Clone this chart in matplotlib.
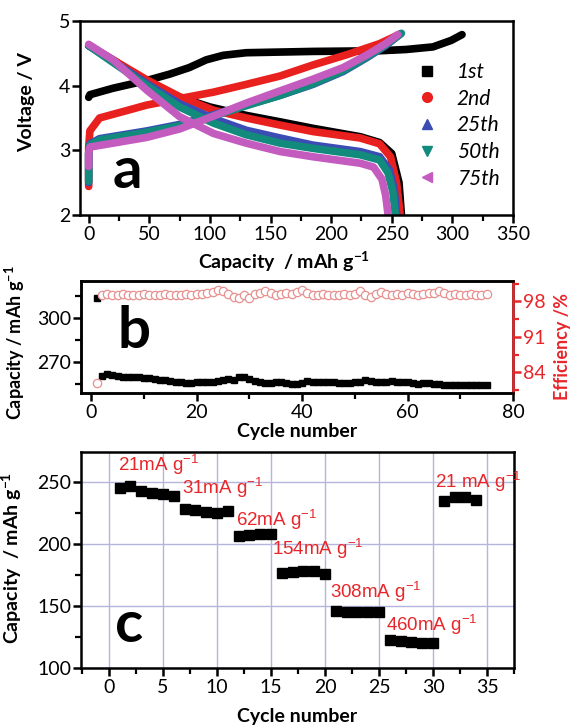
import matplotlib
matplotlib.use("Agg")
import matplotlib.pyplot as plt
import matplotlib.ticker as mticker
from matplotlib.lines import Line2D

# ---------------- panel a: charge / discharge curves ----------------
CYCLE_LABELS = ["1st", "2nd", "25th", "50th", "75th"]
CYCLE_COLORS = ["#000000", "#e8201e", "#3b4db5", "#128a7c", "#c45cc0"]
CYCLE_MARKERS = ["s", "o", "^", "v", "<"]

# charge (capacity mAh/g, voltage V)
chg_cap_1st = [0, 1, 20, 48, 67, 83, 97, 111, 130, 185, 240, 262, 284, 299, 308]
chg_v_1st = [3.82, 3.86, 3.96, 4.08, 4.18, 4.28, 4.40, 4.47, 4.51, 4.53, 4.54, 4.56, 4.60, 4.70, 4.79]
chg_cap_2nd = [0, 0, 1, 9, 48, 75, 103, 130, 158, 185, 213, 240, 257]
chg_v_2nd = [2.44, 3.05, 3.30, 3.50, 3.70, 3.80, 3.90, 4.02, 4.15, 4.32, 4.48, 4.65, 4.80]
chg_cap_25th = [0, 0, 1, 9, 48, 75, 103, 130, 158, 185, 210, 230, 245, 257]
chg_v_25th = [2.50, 2.95, 3.10, 3.18, 3.30, 3.40, 3.55, 3.70, 3.85, 4.02, 4.22, 4.44, 4.62, 4.80]
chg_cap_50th = [0, 0, 1, 9, 48, 75, 103, 130, 158, 185, 210, 230, 245, 258]
chg_v_50th = [2.52, 2.95, 3.08, 3.16, 3.28, 3.38, 3.53, 3.69, 3.85, 4.03, 4.23, 4.45, 4.63, 4.81]
chg_cap_75th = [0, 0, 1, 20, 48, 75, 103, 130, 158, 185, 210, 230, 245, 255]
chg_v_75th = [2.75, 2.95, 3.05, 3.11, 3.20, 3.33, 3.53, 3.73, 3.92, 4.10, 4.28, 4.48, 4.65, 4.79]

# discharge
dis_cap_1st = [0, 20, 48, 75, 100, 130, 158, 185, 224, 240, 250, 256, 258]
dis_v_1st = [4.62, 4.40, 4.05, 3.82, 3.67, 3.54, 3.44, 3.34, 3.21, 3.12, 2.95, 2.50, 2.00]
dis_cap_2nd = [0, 20, 48, 75, 103, 130, 158, 185, 224, 240, 249, 254, 257]
dis_v_2nd = [4.62, 4.40, 4.09, 3.83, 3.62, 3.50, 3.39, 3.29, 3.19, 3.10, 2.90, 2.50, 2.00]
dis_cap_25th = [0, 20, 48, 75, 103, 130, 158, 185, 224, 240, 248, 252, 254]
dis_v_25th = [4.62, 4.38, 4.03, 3.72, 3.49, 3.31, 3.19, 3.08, 2.98, 2.90, 2.70, 2.40, 2.00]
dis_cap_50th = [0, 20, 48, 75, 103, 130, 158, 185, 224, 240, 247, 251, 253]
dis_v_50th = [4.62, 4.36, 4.00, 3.67, 3.42, 3.24, 3.11, 3.03, 2.93, 2.85, 2.65, 2.35, 2.00]
dis_cap_75th = [0, 20, 48, 75, 103, 130, 158, 185, 224, 235, 242, 245, 247]
dis_v_75th = [4.64, 4.40, 3.93, 3.52, 3.26, 3.11, 2.98, 2.90, 2.80, 2.74, 2.55, 2.30, 2.00]

charge_caps = [chg_cap_1st, chg_cap_2nd, chg_cap_25th, chg_cap_50th, chg_cap_75th]
charge_volts = [chg_v_1st, chg_v_2nd, chg_v_25th, chg_v_50th, chg_v_75th]
discharge_caps = [dis_cap_1st, dis_cap_2nd, dis_cap_25th, dis_cap_50th, dis_cap_75th]
discharge_volts = [dis_v_1st, dis_v_2nd, dis_v_25th, dis_v_50th, dis_v_75th]

# ---------------- panel b: cycling ----------------
cycle_b = list(range(1, 76))
capacity_b = [313.5, 260.5, 261.5, 261, 260.5, 260, 260, 259.5, 259.5, 259,
              259, 258.5, 258, 257.5, 257, 256.5, 256, 255.5, 255.8, 256,
              256, 256.5, 256.5, 257, 257.5, 258.5, 258, 259.5, 260, 258.5,
              257, 256, 255.5, 255.5, 256, 256, 255.5, 255, 255, 255.5,
              257, 256.5, 256.5, 256, 256, 256, 255.5, 255.5, 255.5, 256,
              256.5, 257.5, 257, 256, 256, 256.5, 257, 256.5, 256, 256,
              255.5, 255, 255.5, 255.5, 255, 255, 254.5, 254, 254, 254.5,
              254.5, 254.5, 254.5, 254, 254]
efficiency_b = [82.0, 99.3, 99.4, 99.3, 99.3, 99.4, 99.3, 99.3, 99.3, 99.4,
                99.3, 99.3, 99.3, 99.4, 99.3, 99.3, 99.3, 99.4, 99.3, 99.4,
                99.5, 99.6, 99.8, 100.3, 100.0, 99.5, 98.9, 98.6, 99.3, 98.6,
                99.4, 99.7, 100.1, 99.6, 99.3, 99.4, 99.6, 99.5, 99.8, 100.3,
                99.7, 99.3, 99.3, 99.4, 99.3, 99.3, 99.3, 99.4, 99.3, 99.5,
                100.0, 99.2, 98.8, 99.5, 99.8, 99.5, 99.3, 99.4, 99.3, 99.6,
                99.5, 99.3, 99.4, 99.6, 99.7, 100.1, 99.6, 99.3, 99.4, 99.3,
                99.3, 99.4, 99.3, 99.3, 99.4]

# ---------------- panel c: rate capability ----------------
cycle_c = list(range(1, 35))
capacity_c = [245.2, 247, 243, 241, 240.4, 239, 228.2, 227.4, 226, 225,
              227, 206.5, 207, 208, 208, 176.6, 177.4, 178.5, 178, 176,
              146, 145.5, 145.2, 145.2, 145, 122.6, 121.8, 121, 120.4, 120,
              235, 237.6, 237.6, 235.5]
rate_labels = ["21mA g$^{-1}$", "31mA g$^{-1}$", "62mA g$^{-1}$", "154mA g$^{-1}$",
               "308mA g$^{-1}$", "460mA g$^{-1}$", "21 mA g$^{-1}$"]
rate_label_x = [0.8, 6.8, 11.8, 15.1, 20.5, 25.6, 30.2]
rate_label_y = [264, 245, 219.5, 196, 161, 135, 250]

RED = "#e8262a"
GRID = "#b4b4dc"
TICK_FONT = ["Lato", "DejaVu Sans"]
NARROW_FONT = ["Liberation Sans", "DejaVu Sans"]

plt.rcParams.update({
    "font.family": ["Lato", "DejaVu Sans"],
    "font.size": 13,
    "axes.linewidth": 1.8,
    "xtick.direction": "out",
    "ytick.direction": "out",
    "xtick.major.size": 6,
    "ytick.major.size": 6,
    "xtick.minor.size": 4,
    "ytick.minor.size": 4,
    "xtick.major.width": 1.8,
    "ytick.major.width": 1.8,
    "xtick.minor.width": 1.6,
    "ytick.minor.width": 1.6,
    "xtick.major.pad": 2,
    "ytick.major.pad": 1,
    "mathtext.default": "regular",
})

LABEL_KW = dict(fontsize=14, fontweight="bold")


def style_ticks(ax):
    for lab in ax.get_xticklabels() + ax.get_yticklabels():
        lab.set_family(TICK_FONT)
        lab.set_fontsize(14)


fig = plt.figure(figsize=(5.77, 7.26), dpi=100)

# ---- a ----
ax_a = fig.add_axes([0.139, 0.704, 0.750, 0.267])
for i in range(5):
    ax_a.plot(charge_caps[i], charge_volts[i], color=CYCLE_COLORS[i], lw=5.5,
              solid_capstyle="round", solid_joinstyle="round")
    ax_a.plot(discharge_caps[i], discharge_volts[i], color=CYCLE_COLORS[i], lw=5.5,
              solid_capstyle="round", solid_joinstyle="round")
ax_a.set_xlim(-7, 350)
ax_a.set_ylim(2, 5)
ax_a.xaxis.set_major_locator(mticker.MultipleLocator(50))
ax_a.xaxis.set_minor_locator(mticker.MultipleLocator(25))
ax_a.yaxis.set_major_locator(mticker.MultipleLocator(1))
ax_a.set_xlabel("Capacity  / mAh g$^{-1}$", **LABEL_KW)
ax_a.set_ylabel("Voltage / V", **LABEL_KW)
ax_a.xaxis.set_label_coords(0.47, -0.18)
ax_a.yaxis.set_label_coords(-0.105, 0.58)
handles = [Line2D([], [], ls="none", marker=m, color=c, markersize=7)
           for m, c in zip(CYCLE_MARKERS, CYCLE_COLORS)]
ax_a.legend(handles, CYCLE_LABELS, loc="upper left", bbox_to_anchor=(0.735, 0.885),
            frameon=False, handlelength=1.0, handletextpad=0.9, labelspacing=0.32,
            prop={"style": "italic", "size": 15})
ax_a.text(0.075, 0.14, "a", transform=ax_a.transAxes, fontsize=42,
          fontweight="bold", va="baseline")
style_ticks(ax_a)

# ---- b ----
ax_b = fig.add_axes([0.140, 0.459, 0.749, 0.154])
ax_b.plot(cycle_b, capacity_b, ls="none", marker="s", color="black", markersize=5)
ax_b.set_xlim(-2, 80)
ax_b.set_ylim(249, 325)
ax_b.xaxis.set_major_locator(mticker.MultipleLocator(20))
ax_b.xaxis.set_minor_locator(mticker.MultipleLocator(10))
ax_b.set_yticks([270, 300])
ax_b.yaxis.set_minor_locator(mticker.FixedLocator([255, 285, 315]))
ax_b.set_xlabel("Cycle number", **LABEL_KW)
ax_b.set_ylabel("Capacity / mAh g$^{-1}$", fontsize=13, fontweight="bold")
ax_b.xaxis.set_label_coords(0.5, -0.27)
ax_b.yaxis.set_label_coords(-0.125, 0.45)
ax_b.text(0.085, 0.40, "b", transform=ax_b.transAxes, fontsize=42,
          fontweight="bold", va="baseline")
style_ticks(ax_b)

ax_e = ax_b.twinx()
ax_e.plot(cycle_b, efficiency_b, ls="none", marker="o", markersize=6,
          markerfacecolor="white", markeredgecolor="#e89090", markeredgewidth=0.9)
ax_e.set_ylim(80, 102)
ax_e.set_yticks([84, 91, 98])
ax_e.yaxis.set_minor_locator(mticker.FixedLocator([80.5, 87.5, 94.5, 101.5]))
ax_e.spines["right"].set_color(RED)
ax_e.tick_params(axis="y", colors=RED, which="both")
ax_e.set_ylabel("Efficiency /%", color=RED, fontsize=13, fontweight="bold")
ax_e.yaxis.set_label_coords(1.095, 0.41)
for lab in ax_e.get_yticklabels():
    lab.set_family(TICK_FONT)
    lab.set_fontsize(14)
    lab.set_color(RED)

# ---- c ----
ax_c = fig.add_axes([0.140, 0.080, 0.751, 0.297])
ax_c.grid(True, which="major", color=GRID, lw=1.0)
ax_c.set_axisbelow(True)
ax_c.plot(cycle_c, capacity_c, ls="none", marker="s", color="black", markersize=7)
for txt, x, y in zip(rate_labels, rate_label_x, rate_label_y):
    ax_c.text(x, y, txt, color=RED, fontsize=13.5, va="center", ha="left",
              family=NARROW_FONT)
ax_c.set_xlim(-2.6, 37.5)
ax_c.set_ylim(100, 274)
ax_c.xaxis.set_major_locator(mticker.MultipleLocator(5))
ax_c.xaxis.set_minor_locator(mticker.MultipleLocator(2.5))
ax_c.yaxis.set_major_locator(mticker.MultipleLocator(50))
ax_c.yaxis.set_minor_locator(mticker.MultipleLocator(25))
ax_c.set_xlabel("Cycle number", **LABEL_KW)
ax_c.set_ylabel("Capacity  / mAh g$^{-1}$", **LABEL_KW)
ax_c.xaxis.set_label_coords(0.5, -0.185)
ax_c.yaxis.set_label_coords(-0.13, 0.51)
ax_c.text(0.079, 0.12, "c", transform=ax_c.transAxes, fontsize=42,
          fontweight="bold", va="baseline")
style_ticks(ax_c)

fig.savefig("out.png", dpi=100)
